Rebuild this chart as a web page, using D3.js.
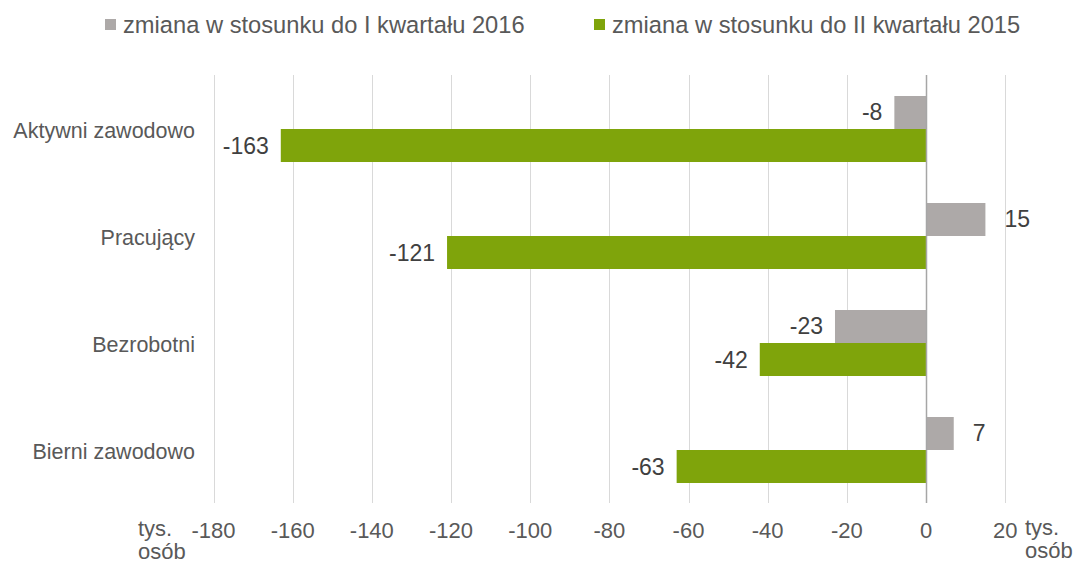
<!DOCTYPE html>
<html>
<head>
<meta charset="utf-8">
<script src="https://cdn.jsdelivr.net/npm/d3@7"></script>
<style>
  html, body { margin: 0; padding: 0; background: #fff; }
  svg { display: block; font-family: "Liberation Sans", Arial, sans-serif; }
</style>
</head>
<body>
<svg id="chart" width="1080" height="565"></svg>
<script>
const categories = ["Aktywni zawodowo", "Pracujący", "Bezrobotni", "Bierni zawodowo"];
const seriesNames = ["zmiana w stosunku do I kwartału 2016", "zmiana w stosunku do II kwartału 2015"];
const seriesQoQ = [-8, 15, -23, 7];
const seriesYoY = [-163, -121, -42, -63];
const tickValues = [-180, -160, -140, -120, -100, -80, -60, -40, -20, 0, 20];
const unitLabel = ["tys.", "osób"];
const colors = ["#ADA9A8", "#7FA40B"];

const svg = d3.select("#chart");
const x = d3.scaleLinear().domain([-180, 20]).range([213.5, 1005.2]);
const y = d3.scaleBand().domain(categories).range([75.5, 503.5]).paddingInner(0).paddingOuter(0);
const ySub = d3.scaleBand().domain([0, 1]).range([0, y.bandwidth()]).paddingInner(0).paddingOuter(0.621);

const seriesData = [seriesQoQ, seriesYoY];

// gridlines
svg.append("g").selectAll("line").data(tickValues.filter(t => t !== 0)).join("line")
  .attr("x1", d => Math.round(x(d)) + 0.5).attr("x2", d => Math.round(x(d)) + 0.5)
  .attr("y1", 75).attr("y2", 503)
  .attr("stroke", "#D9D9D9").attr("stroke-width", 1);

// bars
seriesData.forEach((vals, si) => {
  svg.append("g").selectAll("rect").data(vals).join("rect")
    .attr("x", d => x(Math.min(0, d)))
    .attr("width", d => Math.abs(x(d) - x(0)))
    .attr("y", (d, i) => y(categories[i]) + ySub(si))
    .attr("height", ySub.bandwidth())
    .attr("fill", colors[si]);
});

// zero axis
svg.append("line")
  .attr("x1", Math.round(x(0)) + 0.5).attr("x2", Math.round(x(0)) + 0.5)
  .attr("y1", 75).attr("y2", 503)
  .attr("stroke", "#A6A6A6").attr("stroke-width", 1.5);

// data labels
seriesData.forEach((vals, si) => {
  svg.append("g").selectAll("text").data(vals).join("text")
    .attr("x", d => d < 0 ? x(d) - 12 : x(d) + 19)
    .attr("y", (d, i) => y(categories[i]) + ySub(si) + ySub.bandwidth() / 2 + 8)
    .attr("text-anchor", d => d < 0 ? "end" : "start")
    .attr("font-size", 23)
    .attr("fill", "#404040")
    .text(d => d);
});

// category labels
svg.append("g").selectAll("text").data(categories).join("text")
  .attr("x", 195)
  .attr("y", d => y(d) + y.bandwidth() / 2 + 9)
  .attr("text-anchor", "end")
  .attr("font-size", 21.5)
  .attr("fill", "#595959")
  .text(d => d);

// x axis tick labels
svg.append("g").selectAll("text").data(tickValues).join("text")
  .attr("x", d => x(d))
  .attr("y", 538)
  .attr("text-anchor", "middle")
  .attr("font-size", 22)
  .attr("fill", "#595959")
  .text(d => d);

// unit labels
[[138, 536], [1025, 535]].forEach(([ux, uy]) => {
  svg.append("text").attr("x", ux).attr("y", uy).attr("font-size", 22).attr("fill", "#595959").text(unitLabel[0]);
  svg.append("text").attr("x", ux).attr("y", uy + 23).attr("font-size", 22).attr("fill", "#595959").text(unitLabel[1]);
});

// legend
const legendX = [105, 594];
seriesNames.forEach((name, i) => {
  svg.append("rect").attr("x", legendX[i]).attr("y", 19).attr("width", 11).attr("height", 11).attr("fill", colors[i]);
  svg.append("text").attr("x", legendX[i] + 18).attr("y", 33)
    .attr("font-size", 23.7).attr("fill", "#595959").text(name);
});
</script>
</body>
</html>
